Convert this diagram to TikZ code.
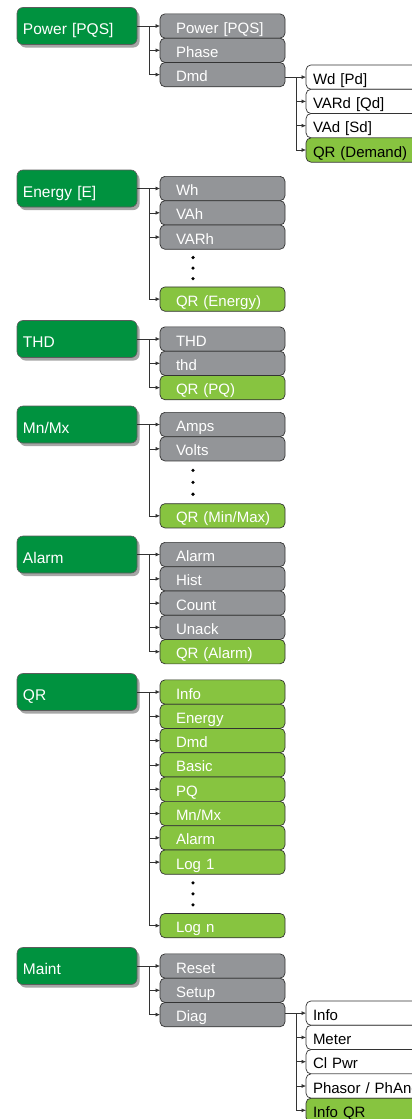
\documentclass[tikz,border=0pt]{standalone}
\usepackage{fontspec}
\setmainfont{Liberation Sans}
\usetikzlibrary{positioning,arrows.meta,shadows,calc}
\definecolor{mgreen}{HTML}{00923F}
\definecolor{lgreen}{HTML}{87C440}
\definecolor{mgray}{HTML}{939598}
\definecolor{lineclr}{HTML}{333333}

\begin{document}
\begin{tikzpicture}[x=1pt, y=-1pt,
  every node/.style = {font=\fontsize{15}{18}\selectfont, outer sep=0pt},
  menu/.style = {rectangle, rounded corners=6pt, draw=lineclr!80, line width=0.6pt,
    fill=mgreen, text=white, minimum height=37pt, text width=108pt,
    inner xsep=6pt, align=left, text height=17pt, text depth=0pt,
    font=\fontsize{15.5}{18}\selectfont,
    drop shadow={shadow xshift=2.5pt, shadow yshift=-3pt, opacity=0.35, fill=black}},
  box/.style = {rectangle, rounded corners=5pt, draw=lineclr, line width=0.7pt,
    minimum height=24.3pt, align=left, text height=14pt, text depth=0pt},
  item/.style = {box, fill=mgray, text=white, text width=109pt, inner xsep=8pt,
    execute at begin node={\hspace*{8pt}}},
  qr/.style = {item, fill=lgreen},
  sub/.style = {box, fill=white, text=black, text width=120pt, inner xsep=7pt},
  subqr/.style = {sub, fill=lgreen},
  link/.style = {draw=lineclr, line width=0.6pt, -{Latex[length=4.5pt,width=4pt]}}]
  \path[use as bounding box, clip] (0,0) rectangle (412,1119);

  % Power
  \node[menu] (power) at (77,26) {Power [PQS]};
  \node[item, right=23pt of power] (pw1) {Power [PQS]};
  \node[item, below=0pt of pw1] (pw2) {Phase};
  \node[item, below=0pt of pw2] (pw3) {Dmd};
  \node[sub, right=21pt of pw3, yshift=-2.5pt] (dm1) {Wd [Pd]};
  \node[sub, below=0pt of dm1] (dm2) {VARd [Qd]};
  \node[sub, below=0pt of dm2] (dm3) {VAd [Sd]};
  \node[subqr, below=0pt of dm3] (dm4) {QR (Demand)};
  \draw[link] (power.east |- pw1) -- (pw1.west);
  \foreach \n in {pw2,pw3} \draw[link] ([xshift=-11pt]pw1.west) |- (\n.west);
  \draw[link] (pw3.east |- dm1) -- (dm1.west);
  \foreach \n in {dm2,dm3,dm4} \draw[link] ([xshift=-9.5pt]dm1.west) |- (\n.west);

  % Energy
  \node[menu] (energy) at (77,188.5) {Energy [E]};
  \node[item, right=23pt of energy] (en1) {Wh};
  \node[item, below=0pt of en1] (en2) {VAh};
  \node[item, below=0pt of en2] (en3) {VARh};
  \node[qr, below=37.7pt of en3] (en4) {QR (Energy)};
  \draw[link] (energy.east |- en1) -- (en1.west);
  \foreach \n in {en2,en3,en4} \draw[link] ([xshift=-11pt]en1.west) |- (\n.west);
  \foreach \f in {0.22,0.5,0.78}
    \fill ($([xshift=33pt]en3.south west)!\f!([xshift=33pt]en4.north west)$) circle (1.8pt);

  % THD
  \node[menu] (thd) at (77,339) {THD};
  \node[item, right=23pt of thd] (th1) {THD};
  \node[item, below=0pt of th1] (th2) {thd};
  \node[qr, below=0pt of th2] (th3) {QR (PQ)};
  \draw[link] (thd.east |- th1) -- (th1.west);
  \foreach \n in {th2,th3} \draw[link] ([xshift=-11pt]th1.west) |- (\n.west);

  % Mn/Mx
  \node[menu] (mnmx) at (77,424.5) {Mn/Mx};
  \node[item, right=23pt of mnmx] (mm1) {Amps};
  \node[item, below=0pt of mm1] (mm2) {Volts};
  \node[qr, below=42.7pt of mm2] (mm3) {QR (Min/Max)};
  \draw[link] (mnmx.east |- mm1) -- (mm1.west);
  \foreach \n in {mm2,mm3} \draw[link] ([xshift=-11pt]mm1.west) |- (\n.west);
  \foreach \f in {0.22,0.5,0.78}
    \fill ($([xshift=33pt]mm2.south west)!\f!([xshift=33pt]mm3.north west)$) circle (1.8pt);

  % Alarm
  \node[menu] (alarm) at (77,554.5) {Alarm};
  \node[item, right=23pt of alarm] (al1) {Alarm};
  \node[item, below=0pt of al1] (al2) {Hist};
  \node[item, below=0pt of al2] (al3) {Count};
  \node[item, below=0pt of al3] (al4) {Unack};
  \node[qr, below=0pt of al4] (al5) {QR (Alarm)};
  \draw[link] (alarm.east |- al1) -- (al1.west);
  \foreach \n in {al2,al3,al4,al5} \draw[link] ([xshift=-11pt]al1.west) |- (\n.west);

  % QR
  \node[menu] (qrmenu) at (77,692) {QR};
  \node[qr, right=23pt of qrmenu] (qr1) {Info};
  \node[qr, below=0pt of qr1] (qr2) {Energy};
  \node[qr, below=0pt of qr2] (qr3) {Dmd};
  \node[qr, below=0pt of qr3] (qr4) {Basic};
  \node[qr, below=0pt of qr4] (qr5) {PQ};
  \node[qr, below=0pt of qr5] (qr6) {Mn/Mx};
  \node[qr, below=0pt of qr6] (qr7) {Alarm};
  \node[qr, below=0pt of qr7] (qr8) {Log 1};
  \node[qr, below=39.2pt of qr8] (qr9) {Log n};
  \draw[link] (qrmenu.east |- qr1) -- (qr1.west);
  \foreach \n in {qr2,qr3,qr4,qr5,qr6,qr7,qr8,qr9}
    \draw[link] ([xshift=-11pt]qr1.west) |- (\n.west);
  \foreach \f in {0.22,0.5,0.78}
    \fill ($([xshift=33pt]qr8.south west)!\f!([xshift=33pt]qr9.north west)$) circle (1.8pt);

  % Maint
  \node[menu] (maint) at (77,966) {Maint};
  \node[item, right=23pt of maint] (mt1) {Reset};
  \node[item, below=0pt of mt1] (mt2) {Setup};
  \node[item, below=0pt of mt2] (mt3) {Diag};
  \node[sub, right=21pt of mt3, yshift=1.5pt] (dg1) {Info};
  \node[sub, below=0pt of dg1] (dg2) {Meter};
  \node[sub, below=0pt of dg2] (dg3) {Cl Pwr};
  \node[sub, below=0pt of dg3] (dg4) {Phasor / PhAng};
  \node[subqr, below=0pt of dg4] (dg5) {Info QR};
  \draw[link] (maint.east |- mt1) -- (mt1.west);
  \foreach \n in {mt2,mt3} \draw[link] ([xshift=-11pt]mt1.west) |- (\n.west);
  \draw[link] (mt3.east |- dg1) -- (dg1.west);
  \foreach \n in {dg2,dg3,dg4,dg5} \draw[link] ([xshift=-9.5pt]dg1.west) |- (\n.west);
\end{tikzpicture}
\end{document}
